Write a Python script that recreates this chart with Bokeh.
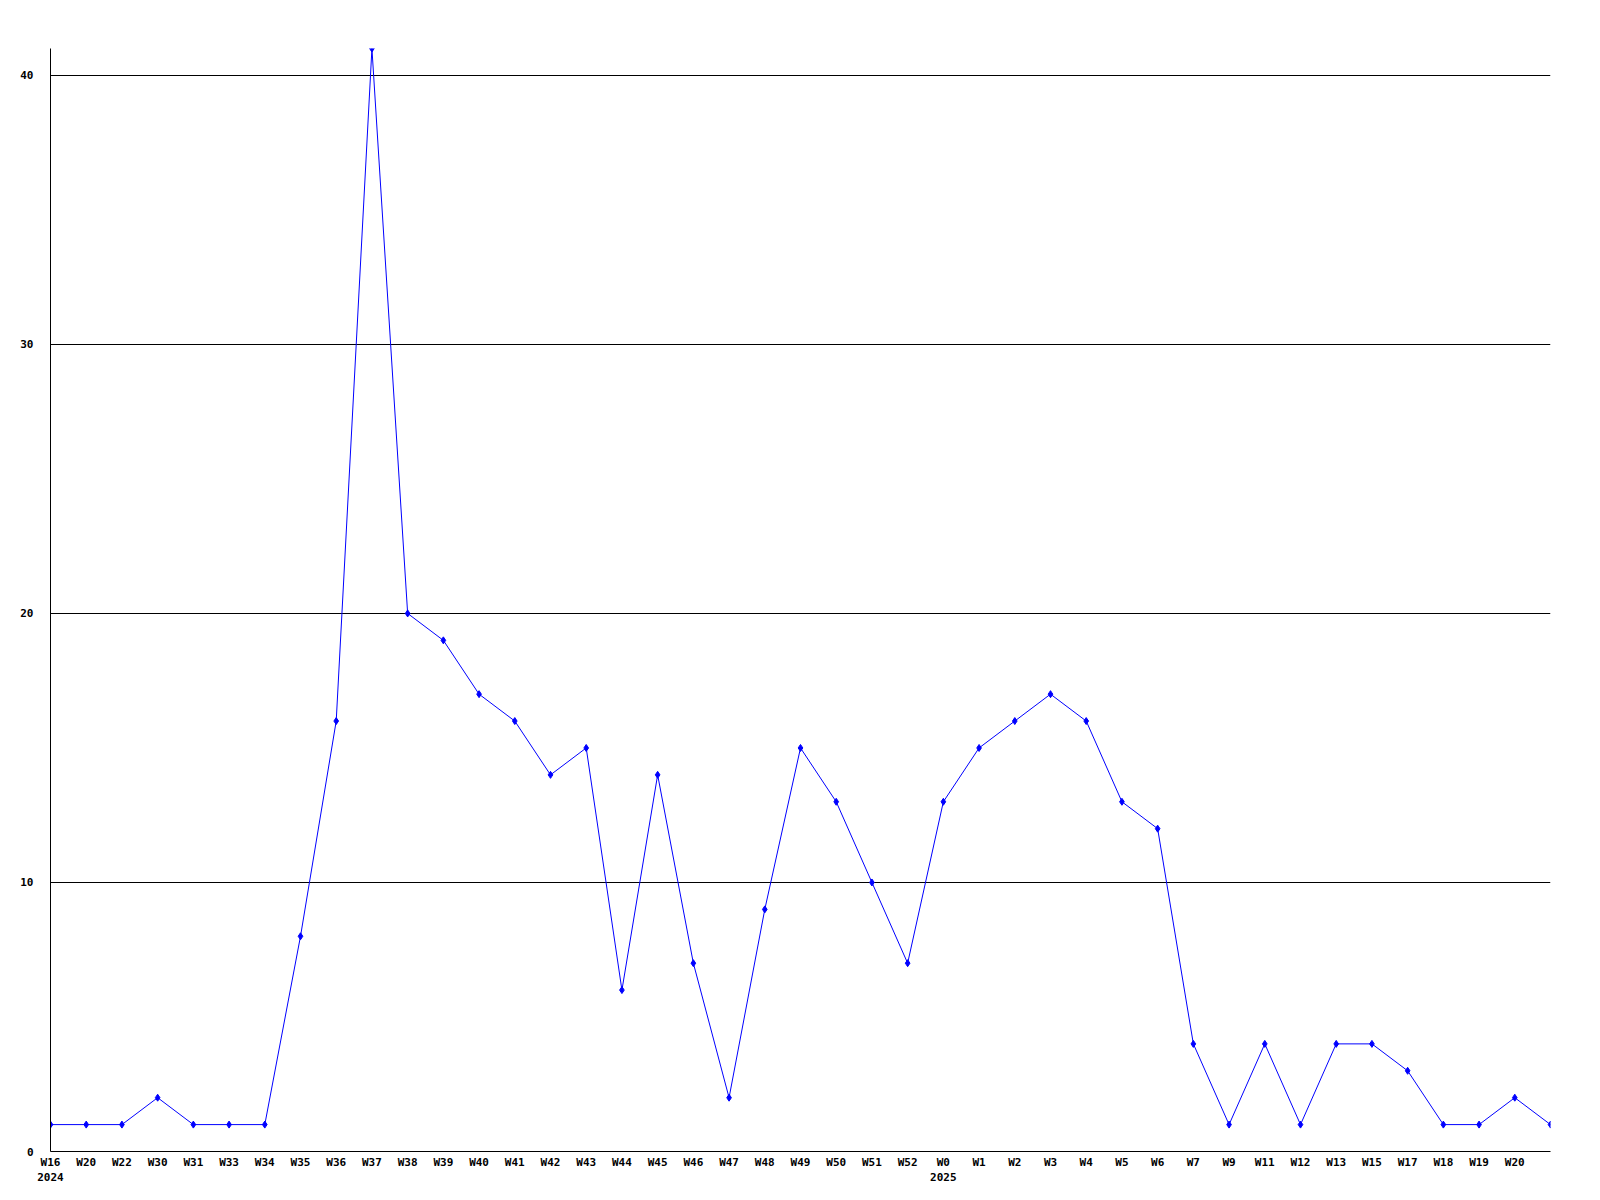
from bokeh.plotting import figure
from bokeh.models import LinearAxis, FixedTicker, Range1d
from bokeh.embed import file_html
from bokeh.resources import INLINE

weeks = ["W16", "W20", "W22", "W30", "W31", "W33", "W34", "W35", "W36", "W37",
         "W38", "W39", "W40", "W41", "W42", "W43", "W44", "W45", "W46", "W47",
         "W48", "W49", "W50", "W51", "W52",
         "W0", "W1", "W2", "W3", "W4", "W5", "W6", "W7", "W9", "W11",
         "W12", "W13", "W15", "W17", "W18", "W19", "W20", ""]
counts = [1, 1, 1, 2, 1, 1, 1, 8, 16, 41,
          20, 19, 17, 16, 14, 15, 6, 14, 7, 2,
          9, 15, 13, 10, 7,
          13, 15, 16, 17, 16, 13, 12, 4, 1, 4,
          1, 4, 4, 3, 1, 1, 2, 1]
years = ["2024", "2025"]
year_first_week = ["W16", "W0"]
y_ticks = [0, 10, 20, 30, 40]

xs = list(range(len(weeks)))
year_idx = [weeks.index(w) for w in year_first_week]

FONT = "DejaVu Sans Mono"

p = figure(width=1591, height=1191, output_backend="svg", toolbar_location=None,
           x_range=Range1d(0, len(weeks) - 1), y_range=Range1d(0, max(counts)),
           x_axis_location=None, y_axis_location=None,
           min_border_left=50, min_border_right=41, min_border_top=48,
           min_border_bottom=40)
p.outline_line_color = None
p.background_fill_color = "white"
p.border_fill_color = "white"

# y axis
ya = LinearAxis(ticker=FixedTicker(ticks=y_ticks))
ya.major_tick_in = 0
ya.major_tick_out = 0
ya.minor_tick_in = 0
ya.minor_tick_out = 0
ya.major_label_standoff = 17
ya.axis_line_color = "black"
ya.major_label_text_font = FONT
ya.major_label_text_font_style = "bold"
ya.major_label_text_font_size = "11px"
ya.major_label_text_color = "black"
p.add_layout(ya, "left")

# x axis (weeks)
xa = LinearAxis(ticker=FixedTicker(ticks=xs))
xa.major_label_overrides = {i: w for i, w in enumerate(weeks)}
xa.major_tick_in = 0
xa.major_tick_out = 0
xa.minor_tick_in = 0
xa.minor_tick_out = 0
xa.major_label_standoff = 4
xa.axis_line_color = "black"
xa.major_label_text_font = FONT
xa.major_label_text_font_style = "bold"
xa.major_label_text_font_size = "11px"
xa.major_label_text_color = "black"
p.add_layout(xa, "below")

# x axis (years)
xa2 = LinearAxis(ticker=FixedTicker(ticks=year_idx))
xa2.major_label_overrides = {i: y for i, y in zip(year_idx, years)}
xa2.major_tick_in = 0
xa2.major_tick_out = 0
xa2.minor_tick_in = 0
xa2.minor_tick_out = 0
xa2.major_label_standoff = 1
xa2.axis_line_color = None
xa2.major_label_text_font = FONT
xa2.major_label_text_font_style = "bold"
xa2.major_label_text_font_size = "11px"
xa2.major_label_text_color = "black"
p.add_layout(xa2, "below")

p.xgrid.visible = False
p.ygrid.ticker = FixedTicker(ticks=y_ticks[1:])
p.ygrid.grid_line_color = "black"
p.ygrid.grid_line_width = 1

p.line(xs, counts, line_color="#0000ff", line_width=1)
p.scatter(xs, counts, marker="diamond", size=7, fill_color="#0000ff", line_color="#0000ff")

open("out.html", "w").write(file_html(p, INLINE))
